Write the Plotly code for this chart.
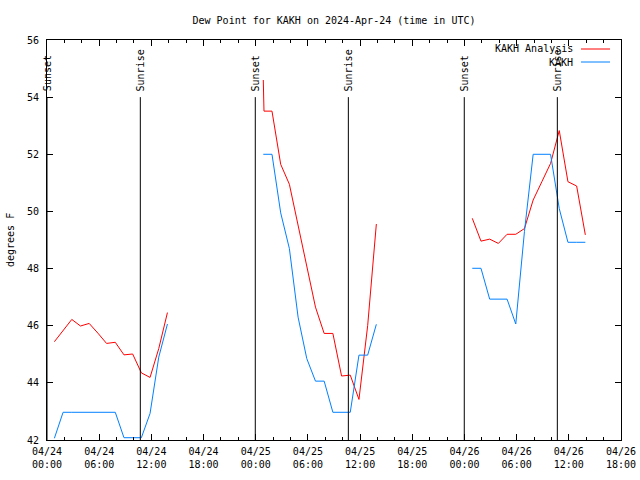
import plotly.graph_objects as go

# ---- data (hours since 2024-04-24 00:00 UTC) ----
analysis_hours = [0.85, 1.85, 2.85, 3.85, 4.85, 5.85, 6.85, 7.85, 8.85, 9.85, 10.85, 11.85, 12.85, 13.85, None,
                  24.87, 24.95, 25.87, 26.87, 27.87, 28.87, 29.87, 30.87, 31.87, 32.87, 33.87, 34.87, 35.87, 36.87, 37.87, None,
                  48.9, 49.9, 50.9, 51.9, 52.9, 53.9, 54.9, 55.9, 56.9, 57.9, 58.9, 59.9, 60.9, 61.9]
analysis_dewpt = [45.44, 45.83, 46.22, 45.99, 46.08, 45.74, 45.38, 45.42, 44.98, 45.01, 44.35, 44.19, 45.2, 46.46, None,
                  54.6, 53.51, 53.51, 51.65, 50.95, 49.5, 48.07, 46.65, 45.73, 45.73, 44.24, 44.27, 43.42, 46.0, 49.56, None,
                  49.76, 48.96, 49.03, 48.88, 49.2, 49.2, 49.4, 50.4, 51.04, 51.68, 52.83, 51.04, 50.89, 49.18]

obs_hours = [0.85, 1.85, 2.85, 3.85, 4.85, 5.85, 6.85, 7.85, 8.85, 9.85, 10.85, 11.85, 12.85, 13.85, None,
             24.87, 25.87, 26.87, 27.87, 28.87, 29.87, 30.87, 31.87, 32.87, 33.87, 34.87, 35.87, 36.87, 37.87, None,
             48.9, 49.9, 50.9, 51.9, 52.9, 53.9, 54.9, 55.9, 56.9, 57.9, 58.9, 59.9, 60.9, 61.9]
obs_dewpt = [42.06, 42.97, 42.97, 42.97, 42.97, 42.97, 42.97, 42.97, 42.08, 42.08, 42.08, 42.93, 44.9, 46.06, None,
             52.0, 52.0, 49.95, 48.7, 46.3, 44.85, 44.06, 44.06, 42.97, 42.97, 42.97, 44.97, 44.97, 46.05, None,
             48.01, 48.01, 46.93, 46.93, 46.93, 46.06, 49.3, 52.0, 52.0, 52.0, 50.1, 48.92, 48.92, 48.92]

sun_event_hours = [0.0, 10.73, 23.95, 34.65, 47.98, 58.68]
sun_event_labels = ["Sunset", "Sunrise", "Sunset", "Sunrise", "Sunset", "Sunrise"]

x_tick_hours = [0, 6, 12, 18, 24, 30, 36, 42, 48, 54, 60, 66]
x_tick_labels = ["04/24<br>00:00", "04/24<br>06:00", "04/24<br>12:00", "04/24<br>18:00",
                 "04/25<br>00:00", "04/25<br>06:00", "04/25<br>12:00", "04/25<br>18:00",
                 "04/26<br>00:00", "04/26<br>06:00", "04/26<br>12:00", "04/26<br>18:00"]

series_names = ["KAKH Analysis", "KAKH"]
series_colors = ["#ff0000", "#0080ff"]

FONT = "DejaVu Sans Mono"

fig = go.Figure()
fig.add_trace(go.Scatter(x=analysis_hours, y=analysis_dewpt, mode="lines", name=series_names[0],
                         line=dict(color=series_colors[0], width=1), connectgaps=False, showlegend=False))
fig.add_trace(go.Scatter(x=obs_hours, y=obs_dewpt, mode="lines", name=series_names[1],
                         line=dict(color=series_colors[1], width=1), connectgaps=False, showlegend=False))

# sunrise / sunset markers
for h, lab in zip(sun_event_hours, sun_event_labels):
    fig.add_shape(type="line", x0=h, x1=h, y0=54, y1=42, xref="x", yref="y",
                  line=dict(color="black", width=1))
    fig.add_annotation(x=h, y=54, xref="x", yref="y", text=lab, textangle=-90,
                       showarrow=False, xanchor="center", yanchor="bottom", yshift=4,
                       font=dict(family=FONT, size=10, color="black"))

# legend drawn gnuplot-style (text right, sample to its right)
plot_l, plot_r, plot_t, plot_b = 47, 621, 40, 440
def px_to_paper(px, py):
    return (px - plot_l) / (plot_r - plot_l), (plot_b - py) / (plot_b - plot_t)

for i, (name, col) in enumerate(zip(series_names, series_colors)):
    py = 49 + 13 * i
    tx, ty = px_to_paper(575, py)
    fig.add_annotation(x=tx, y=ty, xref="paper", yref="paper", text=name, showarrow=False,
                       xanchor="right", yanchor="middle", font=dict(family=FONT, size=10, color="black"))
    x0, y0 = px_to_paper(581, py)
    x1, _ = px_to_paper(610, py)
    fig.add_shape(type="line", x0=x0, x1=x1, y0=y0, y1=y0, xref="paper", yref="paper",
                  line=dict(color=col, width=1))

# y label
lx, ly = px_to_paper(10, 240)
fig.add_annotation(x=lx, y=ly, xref="paper", yref="paper", text="degrees F", textangle=-90,
                   showarrow=False, xanchor="center", yanchor="middle",
                   font=dict(family=FONT, size=10, color="black"))

fig.update_layout(
    width=640, height=480, autosize=False,
    margin=dict(l=47, r=19, t=40, b=40, autoexpand=False),
    paper_bgcolor="white", plot_bgcolor="white",
    font=dict(family=FONT, size=10, color="black"),
    title=dict(text="Dew Point for KAKH on 2024-Apr-24 (time in UTC)", x=0.5, xref="paper",
               y=1 - 20 / 480, yanchor="middle", automargin=False,
               font=dict(family=FONT, size=10, color="black")),
    showlegend=False,
)
fig.update_xaxes(range=[0, 66], tickmode="array", tickvals=x_tick_hours, ticktext=x_tick_labels,
                 ticks="inside", ticklen=6, tickcolor="black", showline=True, linecolor="black",
                 linewidth=1, mirror="allticks", showgrid=False, zeroline=False, automargin=False,
                 ticklabelstandoff=2,
                 tickfont=dict(family=FONT, size=10, color="black"),
                 minor=dict(tickmode="linear", tick0=0, dtick=2, ticks="inside", ticklen=3,
                            tickcolor="black", showgrid=False))
fig.update_yaxes(range=[42, 56], tickmode="linear", tick0=42, dtick=2,
                 ticks="inside", ticklen=6, tickcolor="black", showline=True, linecolor="black",
                 linewidth=1, mirror="allticks", showgrid=False, zeroline=False, automargin=False,
                 ticklabelstandoff=5,
                 tickfont=dict(family=FONT, size=10, color="black"))

fig.write_html("out.html", config={"displayModeBar": False, "staticPlot": True},
               post_script="document.body.style.margin='0px';document.body.style.padding='0px';")
